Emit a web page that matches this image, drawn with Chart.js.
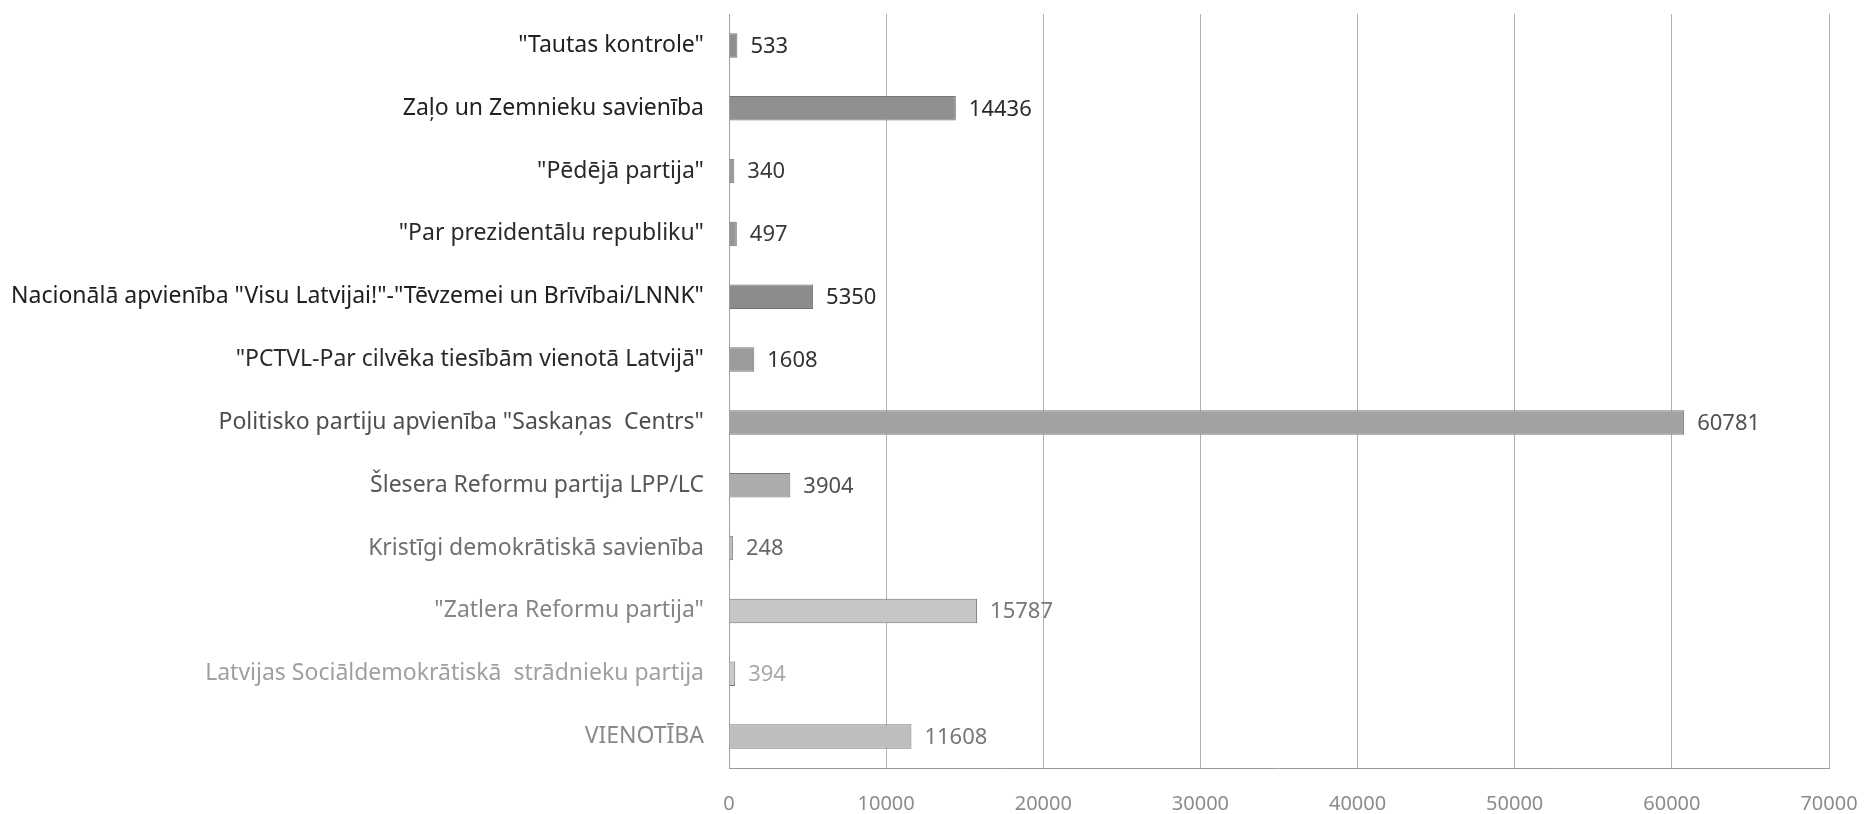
<!DOCTYPE html>
<html>
<head>
<meta charset="utf-8">
<script src="https://cdn.jsdelivr.net/npm/chart.js@4"></script>
<style>
html,body{margin:0;padding:0;background:#fff;}
#wrap{width:1874px;height:814px;position:relative;}
</style>
</head>
<body>
<div id="wrap"><canvas id="c" width="1874" height="814"></canvas></div>
<script>
const categories = [
  '"Tautas kontrole"',
  'Zaļo un Zemnieku savienība',
  '"Pēdējā partija"',
  '"Par prezidentālu republiku"',
  'Nacionālā apvienība "Visu Latvijai!"-"Tēvzemei un Brīvībai/LNNK"',
  '"PCTVL-Par cilvēka tiesībām vienotā Latvijā"',
  'Politisko partiju apvienība "Saskaņas  Centrs"',
  'Šlesera Reformu partija LPP/LC',
  'Kristīgi demokrātiskā savienība',
  '"Zatlera Reformu partija"',
  'Latvijas Sociāldemokrātiskā  strādnieku partija',
  'VIENOTĪBA'
];
const votes = [533, 14436, 340, 497, 5350, 1608, 60781, 3904, 248, 15787, 394, 11608];
const xTicks = [0, 10000, 20000, 30000, 40000, 50000, 60000, 70000];

// styles
const barColors = ['#8e8e8e','#909090','#9a9a9a','#959595','#8c8c8c','#9c9c9c','#a2a2a2','#acacac','#bcbcbc','#c6c6c6','#cacaca','#bebebe'];
const labelColors = ['#222222','#222222','#2a2a2a','#2a2a2a','#202020','#2a2a2a','#4e4e4e','#585858','#707070','#858585','#a0a0a0','#8a8a8a'];
const valueColors = ['#2e2e2e','#2a2a2a','#3a3a3a','#3a3a3a','#2a2a2a','#333333','#505050','#505050','#666666','#777777','#a8a8a8','#777777'];

const customLabels = {
  id: 'customLabels',
  afterDatasetsDraw(chart) {
    const ctx = chart.ctx;
    const meta = chart.getDatasetMeta(0);
    const yScale = chart.scales.y;
    ctx.save();
    ctx.textBaseline = 'middle';
    ctx.font = '23px "Noto Sans"';
    ctx.textAlign = 'right';
    categories.forEach((lab, i) => {
      ctx.fillStyle = labelColors[i];
      ctx.fillText(lab, yScale.right - 25, yScale.getPixelForValue(i));
    });
    ctx.textAlign = 'left';
    ctx.font = '22px "Noto Sans"';
    meta.data.forEach((el, i) => {
      ctx.fillStyle = valueColors[i];
      ctx.fillText(String(votes[i]), el.x + 13, el.y + 1);
    });
    ctx.restore();
  }
};

new Chart(document.getElementById('c'), {
  type: 'bar',
  data: {
    labels: categories,
    datasets: [{
      data: votes,
      backgroundColor: barColors,
      borderColor: '#777777',
      borderWidth: 1,
      barPercentage: 0.39,
      categoryPercentage: 1.0
    }]
  },
  options: {
    indexAxis: 'y',
    responsive: false,
    animation: false,
    layout: { padding: { top: 14, right: 45, left: 0, bottom: 0 } },
    plugins: { legend: { display: false }, tooltip: { enabled: false } },
    scales: {
      x: {
        min: 0, max: 70000,
        afterBuildTicks(scale) { scale.ticks = xTicks.map(v => ({ value: v })); },
        afterFit(scale) { scale.height = 46; scale.paddingLeft = 0; scale.paddingRight = 0; },
        grid: { color: '#b0b0b0', lineWidth: 1, drawTicks: false },
        border: { display: true, color: '#999999', width: 1 },
        ticks: {
          padding: 24,
          color: '#8c8c8c',
          font: { family: 'Noto Sans', size: 20 },
          maxRotation: 0,
          callback: (v) => String(v)
        }
      },
      y: {
        afterFit(scale) { scale.width = 729; },
        grid: { display: false, drawTicks: false },
        border: { display: true, color: '#a0a0a0', width: 1 },
        ticks: { display: false }
      }
    }
  },
  plugins: [customLabels]
});
</script>
</body>
</html>
